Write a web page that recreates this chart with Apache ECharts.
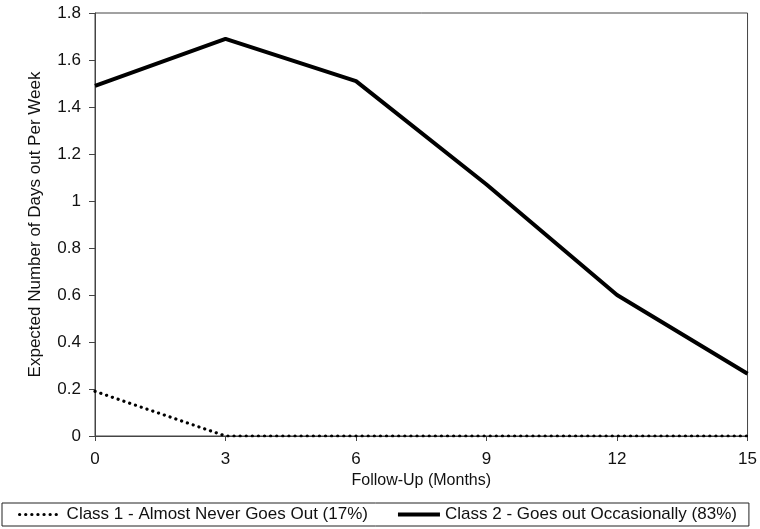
<!DOCTYPE html>
<html>
<head>
<meta charset="utf-8">
<script src="https://cdn.jsdelivr.net/npm/echarts@6/dist/echarts.min.js"></script>
<style>
  html, body { margin: 0; padding: 0; background: #fff; }
  #chart { width: 760px; height: 529px; }
</style>
</head>
<body>
<div id="chart"></div>
<script>
// follow-up months
var months = [0, 3, 6, 9, 12, 15];
// expected days out per week
var class1 = [0.19, 0, 0, 0, 0, 0];
var class2 = [1.49, 1.69, 1.51, 1.07, 0.60, 0.265];
var seriesNames = ['Class 1 - Almost Never Goes Out (17%)', 'Class 2 - Goes out Occasionally (83%)'];

function pairs(xs, ys) {
  return xs.map(function (x, i) { return [x, ys[i]]; });
}

var chart = echarts.init(document.getElementById('chart'));
var font = 'Liberation Sans, Arial, Helvetica, sans-serif';

var dotStyle = { color: '#000', width: 3.2, type: [0.1, 6], cap: 'round' };
var solidStyle = { color: '#000', width: 4 };

var option = {
  animation: false,
  grid: {
    left: 95,
    right: 12,
    top: 13,
    bottom: 93,
    show: true,
    borderColor: '#444',
    borderWidth: 1
  },
  legend: {
    left: 2,
    top: 503,
    itemWidth: 42,
    itemHeight: 10,
    itemGap: 28,
    padding: [3, 12, 3, 16],
    borderColor: '#222',
    borderWidth: 1,
    itemStyle: { opacity: 0 },
    textStyle: { fontFamily: font, fontSize: 17, color: '#111' },
    data: [
      { name: seriesNames[0], lineStyle: dotStyle },
      { name: seriesNames[1], lineStyle: solidStyle }
    ]
  },
  xAxis: {
    type: 'value',
    min: 0,
    max: 15,
    interval: 3,
    name: 'Follow-Up (Months)',
    nameLocation: 'middle',
    nameGap: 33,
    nameTextStyle: { fontFamily: font, fontSize: 16, color: '#111' },
    axisLine: { lineStyle: { color: '#444', width: 1 } },
    axisTick: { show: true, length: 5, lineStyle: { color: '#444' } },
    axisLabel: { fontFamily: font, fontSize: 17, color: '#111', margin: 15 },
    splitLine: { show: false }
  },
  yAxis: {
    type: 'value',
    min: 0,
    max: 1.8,
    interval: 0.2,
    name: 'Expected Number of Days out Per Week',
    nameLocation: 'middle',
    nameGap: 51,
    nameTextStyle: { fontFamily: font, fontSize: 17, color: '#111' },
    axisLine: { show: true, lineStyle: { color: '#444', width: 1 } },
    axisTick: { show: true, length: 6, lineStyle: { color: '#444' } },
    axisLabel: {
      fontFamily: font, fontSize: 17, color: '#111', margin: 14,
      formatter: function (v) { return String(Math.round(v * 10) / 10); }
    },
    splitLine: { show: false }
  },
  series: [
    {
      name: seriesNames[0],
      type: 'line',
      symbol: 'none',
      data: pairs(months, class1),
      lineStyle: dotStyle,
      itemStyle: { color: '#000' }
    },
    {
      name: seriesNames[1],
      type: 'line',
      symbol: 'none',
      data: pairs(months, class2),
      lineStyle: solidStyle,
      itemStyle: { color: '#000' }
    }
  ]
};

chart.setOption(option);
</script>
</body>
</html>
